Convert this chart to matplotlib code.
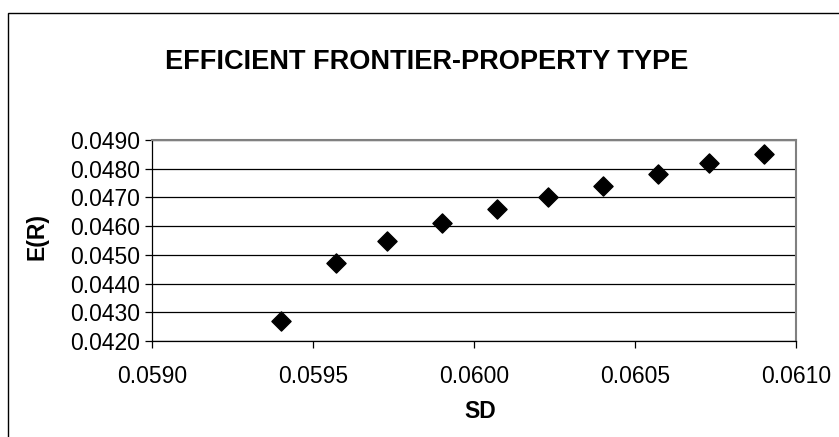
import matplotlib
matplotlib.use("Agg")
import matplotlib.pyplot as plt
from matplotlib.patches import Rectangle
from matplotlib.ticker import FormatStrFormatter, MultipleLocator

plt.rcParams['font.family'] = ['Liberation Sans', 'DejaVu Sans']

# Efficient frontier points
sd = [0.05940, 0.05957, 0.05973, 0.05990, 0.06007,
      0.06023, 0.06040, 0.06057, 0.06073, 0.06090]
er = [0.04270, 0.04470, 0.04550, 0.04610, 0.04660,
      0.04700, 0.04740, 0.04780, 0.04820, 0.04850]

W, H = 839, 437
fig = plt.figure(figsize=(W / 100, H / 100), dpi=100)

# chart area border (only top and left visible in the reference)
fig.patches.append(Rectangle((8 / W, -0.1), 1.2, 1.1 - 13 / H,
                             transform=fig.transFigure, fill=False,
                             edgecolor='black', linewidth=1.0))

ax = fig.add_axes([152 / W, 1 - 341 / H, (796 - 152) / W, (341 - 140) / H])

ax.scatter(sd, er, marker='D', s=95, color='black', zorder=3)

ax.set_xlim(0.0590, 0.0610)
ax.set_ylim(0.0420, 0.0490)
ax.xaxis.set_major_locator(MultipleLocator(0.0005))
ax.yaxis.set_major_locator(MultipleLocator(0.0010))
ax.xaxis.set_major_formatter(FormatStrFormatter('%.4f'))
ax.yaxis.set_major_formatter(FormatStrFormatter('%.4f'))
ax.yaxis.grid(True, color='black', linewidth=0.9)
ax.set_axisbelow(True)

for side in ['top', 'right']:
    ax.spines[side].set_color('#808080')
    ax.spines[side].set_linewidth(1.5)
for side in ['left', 'bottom']:
    ax.spines[side].set_color('black')
    ax.spines[side].set_linewidth(0.9)

ax.tick_params(direction='out', length=5, width=0.9, labelsize=16.5,
               colors='black')
ax.tick_params(axis='x', pad=12)

fig.text(427 / W, 1 - 62 / H, 'EFFICIENT FRONTIER-PROPERTY TYPE',
         ha='center', va='center', fontsize=19.5, fontweight='bold')
fig.text(480 / W, 1 - 411 / H, 'SD', ha='center', va='center',
         fontsize=16.5, fontweight='bold')
fig.text(37 / W, 1 - 236 / H, 'E(R)', ha='center', va='center',
         fontsize=16.5, fontweight='bold', rotation=90)

fig.savefig('out.png', dpi=100)
